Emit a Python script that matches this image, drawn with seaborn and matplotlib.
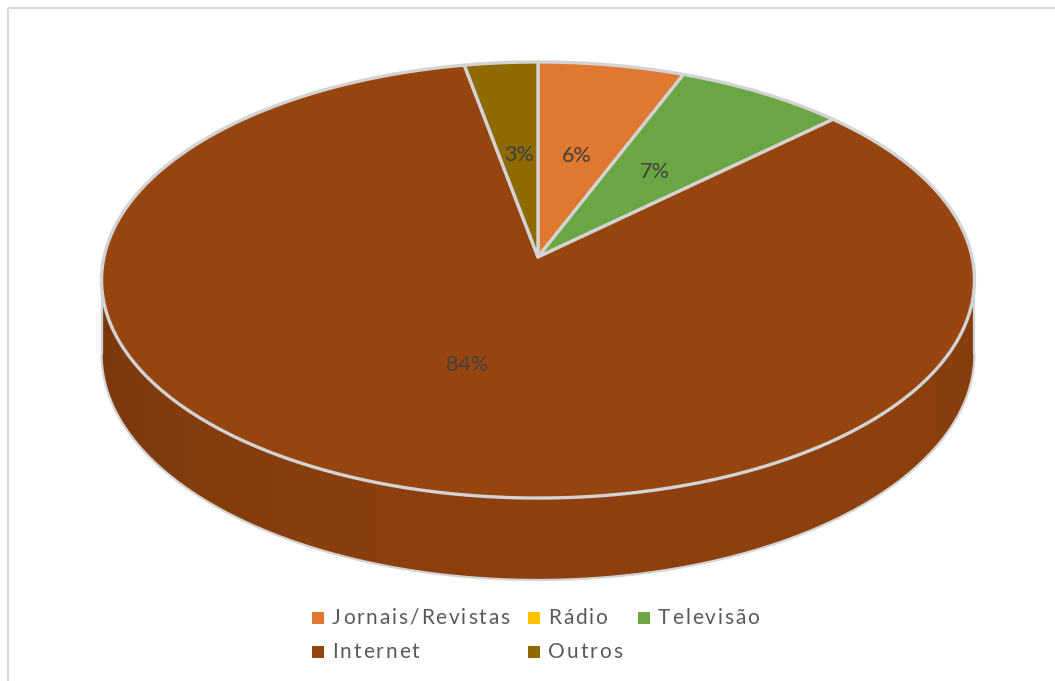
import numpy as np
import matplotlib
matplotlib.use("Agg")
import matplotlib.pyplot as plt
from matplotlib.patches import Polygon, Rectangle
import seaborn as sns

# Share of respondents by main news source (%)
categories = ["Jornais/Revistas", "Rádio", "Televisão", "Internet", "Outros"]
shares = [6, 0, 7, 84, 3]
slice_colors = ["#E0782F", "#FFC000", "#6AA644", "#97450F", "#8E6A00"]

sns.set_theme(style="white")
plt.rcParams["font.family"] = ["Lato", "DejaVu Sans"]

W, H = 1055, 681
fig = plt.figure(figsize=(W / 100, H / 100), dpi=100)
ax = fig.add_axes([0, 0, 1, 1])

# Perspective projection of a tilted disc (pixel space)
CX, CY = 538.0, 257.0      # pie centre on the top face
RA, RB = 434.0, 215.6      # horizontal / depth radii
K = 0.1055                 # perspective strength
DEPTH = 73.3               # thickness of the disc


def proj(theta, r=1.0, drop=0.0):
    t = np.radians(theta)
    u = r * np.sin(t)
    v = r * np.cos(t)
    den = 1 + K * v
    return CX + RA * u / den, CY + (-RB * v + drop * DEPTH) / den


def shade(hex_color, f):
    c = np.array(matplotlib.colors.to_rgb(hex_color))
    return np.clip(c * f, 0, 1)


vals = np.array(shares, dtype=float)
fracs = vals / vals.sum()
ends = np.cumsum(fracs) * 360.0
starts = ends - fracs * 360.0

edge = "#D3D3D3"

# Outer wall (front part that faces the viewer), shaded with a smooth gradient
t_lo = np.degrees(np.arccos(-K))
t_hi = 360.0 - t_lo
ts = np.linspace(t_lo, t_hi, 721)
tx, ty = proj(ts)
bx, by = proj(ts, drop=1)
wall = Polygon(list(zip(tx, ty)) + list(zip(bx[::-1], by[::-1])),
               closed=True, facecolor="none", edgecolor="none", zorder=2)
ax.add_patch(wall)

idx = np.searchsorted(ends, ts)
fac = 0.83 + 0.11 * np.cos(np.radians(ts - 160))
cols = np.array([shade(slice_colors[i], f) for i, f in zip(idx, fac)])
order = np.argsort(tx)
xgrid = np.linspace(tx.min(), tx.max(), 900)
grad = np.stack([np.interp(xgrid, tx[order], cols[order, k]) for k in range(3)],
                axis=-1)[None, :, :]
img = ax.imshow(grad, extent=(tx.min(), tx.max(), by.max() + 2, ty.min() - 2),
                aspect="auto", interpolation="bilinear", zorder=2)
img.set_clip_path(wall)

ax.plot(bx, by, color=edge, lw=1.6, zorder=3, solid_capstyle="round")
for t in (t_lo, t_hi):
    x0, y0 = proj(t)
    x1, y1 = proj(t, drop=1)
    ax.plot([x0, x1], [y0, y1], color=edge, lw=1.6, zorder=3)

# Top face slices
for s, e, v, col in zip(starts, ends, vals, slice_colors):
    if v <= 0:
        continue
    arc = np.linspace(s, e, max(int((e - s) * 2), 8))
    xs, ys = proj(arc)
    pts = [(CX, CY)] + list(zip(xs, ys))
    ax.add_patch(Polygon(pts, closed=True, facecolor=col, edgecolor=edge,
                         lw=2.4, joinstyle="round", zorder=4))

# Percentage labels
for s, e, v in zip(starts, ends, vals):
    if v <= 0:
        continue
    lx, ly = proj(0.5 * (s + e), r=0.5)
    ax.text(lx, ly, f"{v:.0f}%", ha="center", va="center",
            fontsize=15.5, color="#404040", zorder=6)

ax.set_xlim(0, W)
ax.set_ylim(H, 0)
ax.axis("off")

renderer = fig.canvas.get_renderer()


def text_width(s, **kw):
    t = ax.text(0, 0, s, **kw)
    w = t.get_window_extent(renderer).width
    t.remove()
    return w


def spaced_text(x, y, s, spacing, **kw):
    # draw a label with extra tracking between the letters
    for i, ch in enumerate(s):
        left = text_width(s[:i + 1], **kw) - text_width(ch, **kw)
        ax.text(x + left + i * spacing, y, ch, ha="left", va="center", **kw)


# Legend (row-wise, three columns)
col_x = [312, 528, 638]
row_y = [618, 652]
for i, (name, col) in enumerate(zip(categories, slice_colors)):
    r, c = divmod(i, 3)
    x, y = col_x[c], row_y[r]
    ax.add_patch(Rectangle((x, y - 6), 12, 12, facecolor=col,
                           edgecolor="none", zorder=6))
    spaced_text(x + 20, y, name, 1.9, fontsize=15, color="#595959", zorder=6)

# Chart area frame
ax.add_patch(Rectangle((8, 8), W + 20, H + 20, fill=False,
                       edgecolor="#D9D9D9", lw=1.6, zorder=7))

fig.savefig("out.png", dpi=100)
